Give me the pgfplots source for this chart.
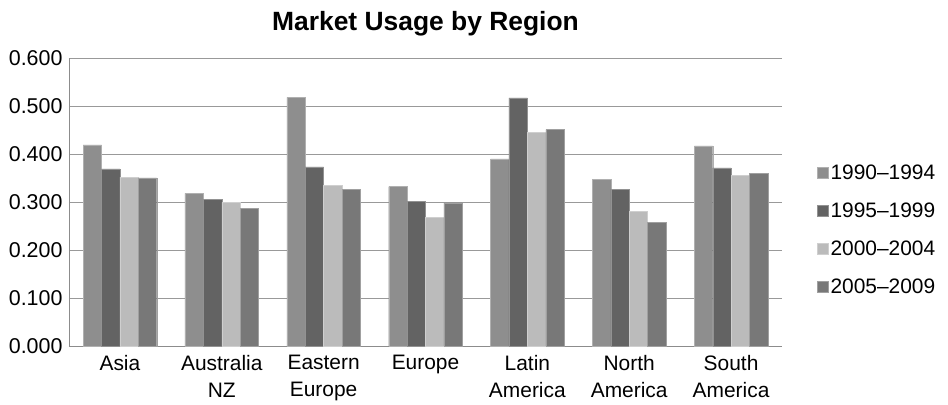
\documentclass[border=0pt]{standalone}
\usepackage{pgfplots}
\pgfplotsset{compat=1.18}
\usepackage{fontspec}
\setmainfont{Liberation Sans}

\definecolor{sA}{HTML}{8E8E8E}
\definecolor{sB}{HTML}{636363}
\definecolor{sC}{HTML}{BBBBBB}
\definecolor{sD}{HTML}{787878}

\begin{document}
\begin{tikzpicture}
\begin{axis}[
    scale only axis,
    width=713bp, height=288bp,
    xmin=-0.5, xmax=6.5,
    ymin=0, ymax=0.6,
    ytick={0,0.1,...,0.6},
    xtick={0,...,6},
    xticklabels={Asia, Australia\\NZ, Eastern\\Europe, Europe, Latin\\America, North\\America, South\\America},
    xticklabel style={align=center, font=\fontsize{21}{27}\selectfont, yshift=-6bp},
    yticklabel style={font=\fontsize{21.5}{24}\selectfont, xshift=-3bp},
    /pgf/number format/assume math mode=true,
    yticklabel={\pgfmathprintnumber[fixed, fixed zerofill, precision=3]{\tick}},
    major tick length=0pt,
    axis x line*=bottom,
    axis y line*=left,
    x axis line style={draw=black!45, -},
    y axis line style={draw=black!45, -},
    ymajorgrids,
    y grid style={draw=black!40, line width=0.8pt},
    ybar=0pt,
    bar width=18.4bp,
    legend style={at={(rel axis cs:1.045,0.403)}, anchor=west, draw=none,
        font=\fontsize{21}{24}\selectfont, row sep=18bp},
    legend cell align=left,
    legend image code/.code={\fill[#1] (0bp,-5.5bp) rectangle (11bp,5.5bp);},
    title={\bfseries Market Usage by Region},
    title style={font=\fontsize{26.5}{30}\selectfont, yshift=12bp},
    clip=false,
]
\addplot[fill=sA, draw=sA!70!white, line width=0.3pt] coordinates {(0,0.419) (1,0.318) (2,0.518) (3,0.332) (4,0.390) (5,0.347) (6,0.417)};
\addplot[fill=sB, draw=sB!70!white, line width=0.3pt] coordinates {(0,0.369) (1,0.306) (2,0.373) (3,0.302) (4,0.517) (5,0.327) (6,0.371)};
\addplot[fill=sC, draw=sC!70!white, line width=0.3pt] coordinates {(0,0.352) (1,0.299) (2,0.335) (3,0.268) (4,0.445) (5,0.281) (6,0.356)};
\addplot[fill=sD, draw=sD!70!white, line width=0.3pt] coordinates {(0,0.350) (1,0.287) (2,0.327) (3,0.298) (4,0.451) (5,0.258) (6,0.360)};
\legend{1990--1994, 1995--1999, 2000--2004, 2005--2009}
\end{axis}
\useasboundingbox (-69bp,-58bp) rectangle (879bp,346bp);
\end{tikzpicture}
\end{document}
